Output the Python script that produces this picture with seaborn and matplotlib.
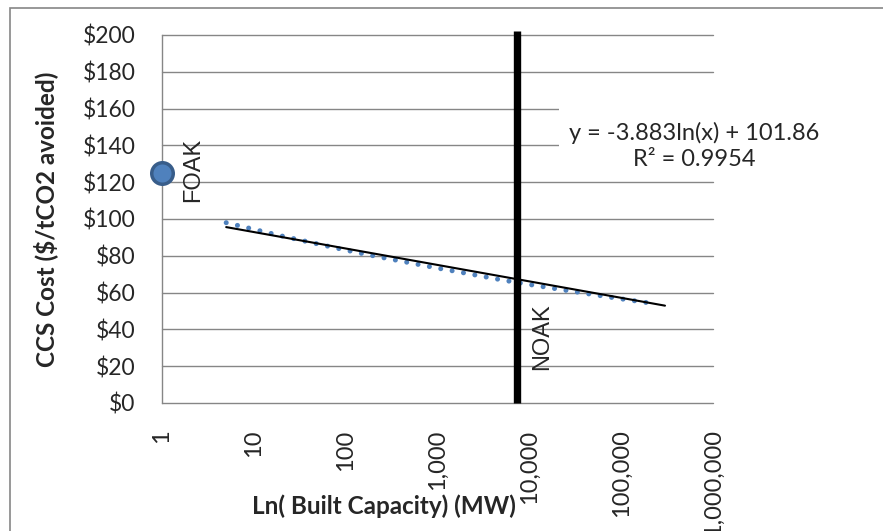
import matplotlib
matplotlib.use("Agg")
import matplotlib.pyplot as plt
import seaborn as sns
import pandas as pd
from matplotlib.patches import Rectangle
from matplotlib.ticker import FixedLocator, NullLocator

# ---- data ----
capacity_mw = [5, 10, 20, 50, 100, 200, 500, 1000, 2000, 5000, 10000, 20000, 50000, 100000, 229000]
ccs_cost = [98.0, 94.4, 90.8, 86.4, 83.1, 80.0, 76.2, 73.3, 70.6, 66.9, 64.4, 62.0, 58.9, 56.6, 54.0]
trend_x = [5, 300000]
trend_y = [95.6, 52.9]
foak_x = [1]
foak_y = [125]
noak_x = [7350, 7350]
noak_y = [0, 202]
xtick_vals = [1, 10, 100, 1000, 10000, 100000, 1000000]
xtick_labels = ["1", "10", "100", "1,000", "10,000", "100,000", "1,000,000"]
ytick_vals = [0, 20, 40, 60, 80, 100, 120, 140, 160, 180, 200]
ytick_labels = ["$0", "$20", "$40", "$60", "$80", "$100", "$120", "$140", "$160", "$180", "$200"]
equation = "y = -3.883ln(x) + 101.86\nR\u00b2 = 0.9954"

sns.set_style("white")
plt.rcParams["font.family"] = ["Lato", "DejaVu Sans"]

fig = plt.figure(figsize=(8.83, 5.31), dpi=100)
ax = fig.add_axes([162 / 883, 1 - 403 / 531, 551 / 883, 368 / 531])

grid_c = "#868686"
for yv in ytick_vals:
    ax.axhline(yv, color=grid_c, lw=1.0, zorder=0)

series = pd.DataFrame({"x": capacity_mw, "y": ccs_cost})
trend = pd.DataFrame({"x": trend_x, "y": trend_y})
noak = pd.DataFrame({"x": noak_x, "y": noak_y})
foak = pd.DataFrame({"x": foak_x, "y": foak_y})

sns.lineplot(data=series, x="x", y="y", ax=ax, color="#4F81BD", lw=3.6,
             linestyle=(0, (0.01, 2.3)), dash_capstyle="round",
             estimator=None, errorbar=None, zorder=3)
sns.lineplot(data=trend, x="x", y="y", ax=ax, color="black", lw=1.5,
             estimator=None, errorbar=None, zorder=4)
sns.lineplot(data=noak, x="x", y="y", ax=ax, color="black", lw=5.3, sort=False,
             estimator=None, errorbar=None, zorder=5, solid_capstyle="butt")
for line in ax.lines:
    line.set_clip_on(False)
sns.scatterplot(data=foak, x="x", y="y", ax=ax, s=240, color="#4F81BD",
                edgecolor="#385D8A", linewidth=2.5, zorder=6, clip_on=False)

ax.set_xscale("log")
ax.set_xlim(1, 1000000)
ax.set_ylim(0, 200)
ax.xaxis.set_major_locator(FixedLocator(xtick_vals))
ax.xaxis.set_minor_locator(NullLocator())
ax.set_xticklabels(xtick_labels, rotation=90, fontsize=17)
ax.set_yticks(ytick_vals)
ax.set_yticklabels(ytick_labels, fontsize=16.5)
ax.tick_params(axis="both", length=0)
ax.tick_params(axis="x", pad=19)
ax.tick_params(axis="y", pad=19)

for s in ["top", "right", "bottom"]:
    ax.spines[s].set_visible(False)
ax.spines["left"].set_color(grid_c)
ax.spines["left"].set_linewidth(1.0)

ax.set_xlabel("Ln( Built Capacity) (MW)", fontsize=17.5, fontweight="bold")
ax.set_ylabel("CCS Cost ($/tCO2 avoided)", fontsize=17.5, fontweight="bold")
ax.xaxis.set_label_coords((384 - 162) / 551, (403 - 506) / 368)
ax.yaxis.set_label_coords((46 - 162) / 551, (403 - 219) / 368)
ax.xaxis.label.set_va("center")
ax.yaxis.label.set_va("center")

ax.text(2.2, 126.6, "FOAK", rotation=90, ha="center", va="center",
        fontsize=17, family="Liberation Sans", zorder=7)
ax.text(13930, 36.1, "NOAK", rotation=90, ha="center", va="center",
        fontsize=17, family="Liberation Sans", zorder=7)
# white backing of the equation label (covers gridlines like the Excel text box)
ax.add_patch(Rectangle((21000, 127), 2000000, 42, facecolor="white", edgecolor="none",
                       zorder=7, clip_on=False))
ax.text(621000, 139.7, equation, ha="center", va="center", multialignment="center",
        fontsize=17, linespacing=1.3, zorder=8, clip_on=False)

fig.patches.append(Rectangle((10 / 883, -0.2), 1.5, 0.2 + 1 - 8 / 531, transform=fig.transFigure,
                             fill=False, edgecolor=grid_c, lw=1.2))

fig.savefig("out.png", dpi=100)
